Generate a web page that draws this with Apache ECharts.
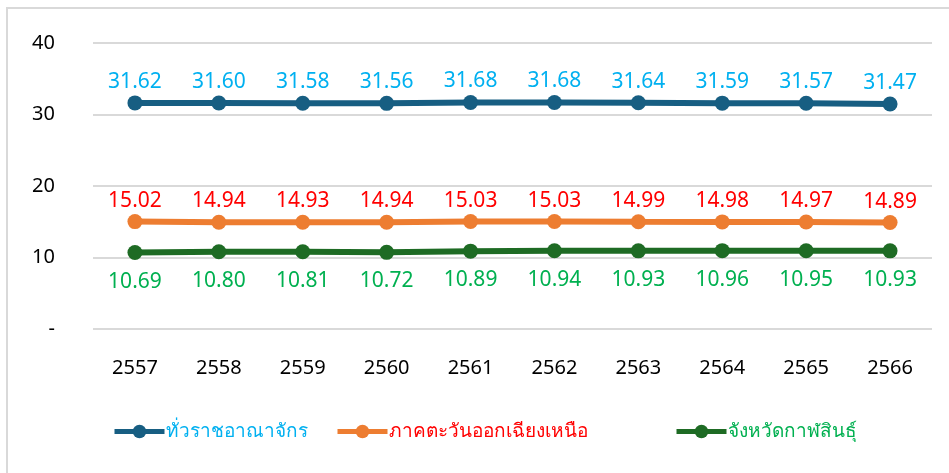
<!DOCTYPE html>
<html>
<head>
<meta charset="utf-8">
<script src="https://cdn.jsdelivr.net/npm/echarts@6/dist/echarts.min.js"></script>
<style>
  html, body { margin: 0; padding: 0; background: #fff; }
  #chart { width: 949px; height: 473px; }
</style>
</head>
<body>
<div id="chart"></div>
<script>
// Years (Buddhist Era)
const years = ['2557', '2558', '2559', '2560', '2561', '2562', '2563', '2564', '2565', '2566'];

// Series names
const nameKingdom = 'ทั่วราชอาณาจักร';
const nameNortheast = 'ภาคตะวันออกเฉียงเหนือ';
const nameKalasin = 'จังหวัดกาฬสินธุ์';

// Values per year
const kingdom = [31.62, 31.60, 31.58, 31.56, 31.68, 31.68, 31.64, 31.59, 31.57, 31.47];
const northeast = [15.02, 14.94, 14.93, 14.94, 15.03, 15.03, 14.99, 14.98, 14.97, 14.89];
const kalasin = [10.69, 10.80, 10.81, 10.72, 10.89, 10.94, 10.93, 10.96, 10.95, 10.93];

const FONT = '"Noto Sans", "DejaVu Sans", sans-serif';

function lineSeries(name, data, lineColor, labelColor, labelPos, dist) {
  return {
    name: name,
    type: 'line',
    data: data,
    symbol: 'circle',
    symbolSize: 15,
    lineStyle: { color: lineColor, width: 6 },
    itemStyle: { color: lineColor },
    label: {
      show: true,
      position: labelPos,
      distance: dist,
      color: labelColor,
      fontFamily: FONT,
      fontSize: 21,
      formatter: p => p.value.toFixed(2)
    },
    emphasis: { disabled: true },
    animation: false
  };
}

function legendAt(left, name, color, lineColor) {
  return {
    left: left,
    top: 417,
    data: [name],
    itemWidth: 50,
    itemHeight: 17,
    itemGap: 2,
    lineStyle: { width: 5, color: lineColor },
    textStyle: { color: color, fontFamily: FONT, fontSize: 19, padding: [0, 0, 0, -4] }
  };
}

const chart = echarts.init(document.getElementById('chart'), null, { renderer: 'canvas' });
chart.setOption({
  backgroundColor: '#fff',
  animation: false,
  graphic: [{
    type: 'rect',
    shape: { x: 7, y: 8, width: 960, height: 480 },
    style: { fill: 'none', stroke: '#D9D9D9', lineWidth: 2 },
    silent: true
  }],
  legend: [
    legendAt(107, nameKingdom, '#00B0F0', '#175E82'),
    legendAt(330, nameNortheast, '#FF0000', '#ED7D31'),
    legendAt(669, nameKalasin, '#00B050', '#1E6B24')
  ],
  grid: { left: 93, right: 17, top: 43, bottom: 144 },
  xAxis: {
    type: 'category',
    data: years,
    boundaryGap: true,
    axisLine: { show: false },
    axisTick: { show: false },
    axisLabel: { color: '#000', fontFamily: FONT, fontSize: 20, margin: 29 }
  },
  yAxis: {
    type: 'value',
    min: 0,
    max: 40,
    interval: 10,
    axisLine: { show: false },
    axisTick: { show: false },
    splitLine: { lineStyle: { color: '#D9D9D9', width: 2 } },
    axisLabel: {
      color: '#000',
      fontFamily: FONT,
      fontSize: 20,
      margin: 38,
      formatter: v => (v === 0 ? '-' : String(v))
    }
  },
  series: [
    lineSeries(nameKingdom, kingdom, '#175E82', '#00B0F0', 'top', 3),
    lineSeries(nameNortheast, northeast, '#ED7D31', '#FF0000', 'top', 3),
    lineSeries(nameKalasin, kalasin, '#1E6B24', '#00B050', 'bottom', 11)
  ]
});
</script>
</body>
</html>
